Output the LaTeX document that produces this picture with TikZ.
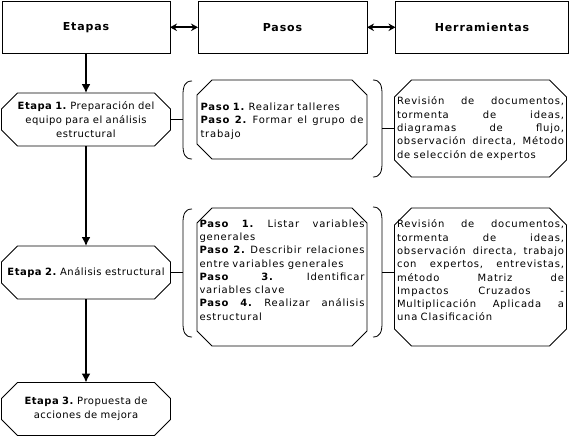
\documentclass[tikz,border=0pt]{standalone}
\usepackage{fontspec}
\setmainfont{DejaVu Sans}
\newfontfamily\fa{DejaVu Sans}[LetterSpace=8]
\newfontfamily\fb{DejaVu Sans}[LetterSpace=5]
\usetikzlibrary{calc,arrows.meta}
\newcommand\jl[1]{\makebox[\linewidth][s]{\spaceskip=0.3em plus 1fil\relax #1}\\}
\newcommand\octa[3]{\draw[shp] ($(#1.north west)+(#2,0)$) -- ($(#1.north east)+(-#2,0)$) -- ($(#1.north east)+(0,#3)$) -- ($(#1.south east)+(0,-#3)$) -- ($(#1.south east)+(-#2,0)$) -- ($(#1.south west)+(#2,0)$) -- ($(#1.south west)+(0,-#3)$) -- ($(#1.north west)+(0,#3)$) -- cycle;}
\newcommand\lbrk[3]{\draw[shp] (#1+9,#2) .. controls (#1+2,#2) and (#1,#2+5) .. (#1,#2+14) -- (#1,#3-14) .. controls (#1,#3-5) and (#1+2,#3) .. (#1+9,#3);}
\newcommand\rbrk[3]{\draw[shp] (#1-9,#2) .. controls (#1-2,#2) and (#1,#2+5) .. (#1,#2+14) -- (#1,#3-14) .. controls (#1,#3-5) and (#1-2,#3) .. (#1-9,#3);}
\tikzset{
  hdr/.style={draw, line width=1pt, minimum height=51.5pt, inner sep=0pt, outer sep=0pt, font={\fa\fontsize{11}{13}\selectfont\bfseries}},
  shp/.style={line width=0.8pt},
  etbox/.style={inner sep=0pt, outer sep=0pt, minimum width=169pt, minimum height=53pt, text width=165pt, align=center, font={\fb\fontsize{10}{14}\selectfont\frenchspacing}},
  pbox/.style={inner sep=0pt, outer sep=0pt, text width=#1, align=left, font={\fa\fontsize{10}{13.3}\selectfont\frenchspacing}},
  frame/.style={inner sep=0pt, outer sep=0pt},
  conn/.style={line width=0.8pt},
  varr/.style={line width=1.6pt, -{Latex[length=9pt,width=9pt]}},
  harr/.style={line width=1.8pt, {Stealth[length=7pt,width=7.5pt]}-{Stealth[length=7pt,width=7.5pt]}}
}
\begin{document}
\begin{tikzpicture}[x=1pt,y=-1pt]
\useasboundingbox (0,0) rectangle (577,437);
% headers
\node[hdr, minimum width=168pt] (hEt) at (86,27.3) {Etapas};
\node[hdr, minimum width=169pt] (hPa) at (282.5,27.3) {Pasos};
\node[hdr, minimum width=173pt] (hHe) at (482,27.3) {Herramientas};
\draw[harr] (hEt.east) -- (hPa.west);
\draw[harr] (hPa.east) -- (hHe.west);
% etapas
\node[etbox] (e1) at (86,119.5) {\textbf{Etapa 1.} Preparación del\\equipo para el análisis\\estructural};
\node[etbox] (e2) at (86,272.5) {\textbf{Etapa 2.} Análisis estructural};
\node[etbox] (e3) at (86,409) {\textbf{Etapa 3.} Propuesta de\\acciones de mejora};
\octa{e1}{16}{16}
\octa{e2}{16}{16}
\octa{e3}{16}{16}
\draw[varr] (hEt.south) -- (e1.north);
\draw[varr] (e1.south) -- (e2.north);
\draw[varr] (e2.south) -- (e3.north);
% pasos
\node[frame, minimum width=170pt, minimum height=79pt] (p1) at (282,119.5) {};
\node[pbox=163pt] (p1t) at (282,121) {\textbf{Paso 1.} Realizar talleres\\\jl{\textbf{Paso 2.} Formar el grupo de}trabajo};
\node[frame, minimum width=170pt, minimum height=138pt] (p2) at (282,277) {};
\node[pbox=165pt] (p2t) at (282,270) {\jl{\textbf{Paso 1.} Listar variables}generales\\\jl{\textbf{Paso 2.} Describir relaciones}entre variables generales\\\jl{\textbf{Paso 3.} Identificar}variables clave\\\jl{\textbf{Paso 4.} Realizar análisis}estructural};
\octa{p1}{15}{15}
\octa{p2}{15}{15}
% herramientas
\node[pbox=167pt, minimum width=172pt, minimum height=97pt] (r1) at (480.5,128.5) {\jl{Revisión de documentos,}\jl{tormenta de ideas,}\jl{diagramas de flujo,}\jl{observación directa, Método}de selección de expertos};
\node[frame, minimum width=172pt, minimum height=138pt] (r2) at (480.5,277) {};
\node[pbox=167pt] (r2t) at (480.5,270.5) {\jl{Revisión de documentos,}\jl{tormenta de ideas,}\jl{observación directa, trabajo}\jl{con expertos, entrevistas,}\jl{método Matriz de}\jl{Impactos Cruzados -}\jl{Multiplicación Aplicada a}una Clasificación};
\octa{r1}{17}{17}
\octa{r2}{17}{17}
% brackets
\lbrk{183}{81}{159}
\rbrk{382}{80}{177}
\lbrk{183}{209}{337}
\rbrk{382}{207}{337}
\coordinate (b1l) at (183,119.5);
\coordinate (b1r) at (382,128.5);
\coordinate (b2l) at (183,272.5);
\coordinate (b2r) at (382,272);
\draw[conn] (e1.east) -- (b1l);
\draw[conn] (b1r) -- (r1.west);
\draw[conn] (e2.east) -- (b2l);
\draw[conn] (b2r) -- (b2r -| r2.west);
\end{tikzpicture}
\end{document}
